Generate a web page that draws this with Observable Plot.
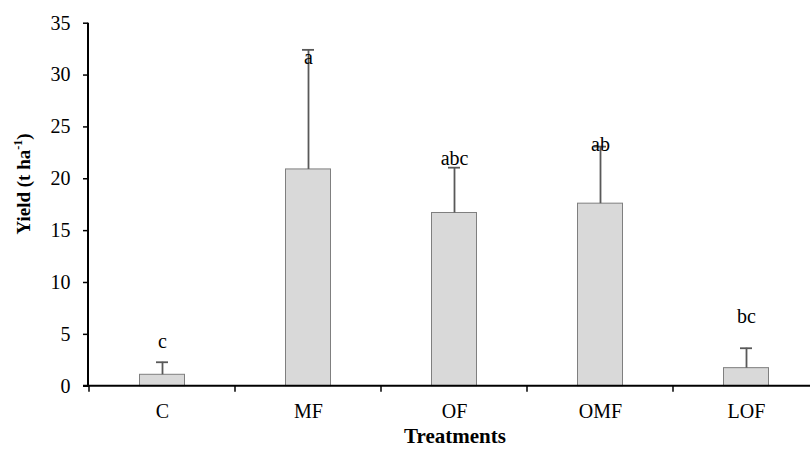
<!DOCTYPE html>
<html>
<head>
<meta charset="utf-8">
<script src="https://cdn.jsdelivr.net/npm/d3@7"></script>
<script src="https://cdn.jsdelivr.net/npm/@observablehq/plot@0.6"></script>
<style>
  html, body { margin: 0; padding: 0; background: #fff; }
  #chart svg { overflow: visible; display: block; font-family: "Liberation Serif", "Times New Roman", serif !important; }
  #chart svg text { font-family: "Liberation Serif", "Times New Roman", serif !important; }
</style>
</head>
<body>
<div id="chart"></div>
<script>
const categories = ["C", "MF", "OF", "OMF", "LOF"];
const means = [1.1, 20.9, 16.7, 17.6, 1.74];
const errors = [1.21, 11.53, 4.37, 5.5, 1.92];
const letters = ["c", "a", "abc", "ab", "bc"];
const letterY = [3.73, 31.1, 21.3, 22.7, 6.1];
const yTicks = [0, 5, 10, 15, 20, 25, 30, 35];

const data = categories.map((c, i) => ({
  cat: c, mean: means[i], top: means[i] + errors[i], letter: letters[i], ly: letterY[i]
}));

const font = "Liberation Serif";

const plot = Plot.plot({
  width: 810,
  height: 450,
  marginLeft: 88,
  marginRight: 0,
  marginTop: 22,
  marginBottom: 64,
  style: { fontFamily: font, fontSize: "20px", color: "#000", background: "#fff", overflow: "visible" },
  x: { domain: categories, range: [88, 819.5], padding: 0, label: null },
  y: { domain: [0, 35], range: [385.7, 22.7], label: null },
  marks: [
    Plot.barY(data, { x: "cat", y: "mean", fill: "#d9d9d9", stroke: "#7f7f7f", strokeWidth: 1, insetLeft: 50.5, insetRight: 50.5 }),
    Plot.ruleX(data, { x: "cat", y1: "mean", y2: "top", stroke: "#595959", strokeWidth: 1.8 }),
    Plot.tickY(data, { x: "cat", y: "top", stroke: "#595959", strokeWidth: 1.8, insetLeft: 67, insetRight: 67 }),
    Plot.text(data, { x: "cat", y: "ly", text: "letter", lineAnchor: "bottom", fontSize: 20, fontFamily: font, fill: "#000" }),
    Plot.axisY({ ticks: yTicks, tickSize: 5, tickPadding: 13, tickFormat: d => d, fontSize: 20, fontFamily: font, label: null, strokeWidth: 1.5 }),
    Plot.axisX({ tickSize: 0, tickPadding: 17, fontSize: 20, fontFamily: font, label: null })
  ]
});

document.getElementById("chart").appendChild(plot);

const xs = plot.scale("x");
const ys = plot.scale("y");
const svg = d3.select(plot);
const y0 = ys.apply(0), y35 = ys.apply(35);
const xLeft = xs.range[0], xRight = xs.range[1];

// boundary ticks on the x axis
const g = svg.append("g").attr("stroke", "#000");
categories.forEach(c => {
  const xb = xs.apply(c);
  g.append("line").attr("x1", xb).attr("x2", xb).attr("y1", y0).attr("y2", y0 + 6).attr("stroke-width", 1.5);
});
// axis lines
g.append("line").attr("x1", xLeft).attr("x2", xLeft).attr("y1", y35).attr("y2", y0 + 1).attr("stroke-width", 2);
g.append("line").attr("x1", xLeft - 5).attr("x2", xRight).attr("y1", y0).attr("y2", y0).attr("stroke-width", 2);

// axis titles
svg.append("text")
  .attr("x", (xLeft + 810) / 2 + 6).attr("y", 443)
  .attr("text-anchor", "middle")
  .attr("font-family", font).attr("font-size", 21).attr("font-weight", "bold")
  .text("Treatments");

const yl = svg.append("text")
  .attr("transform", `translate(30, 184) rotate(-90)`)
  .attr("text-anchor", "middle")
  .attr("font-family", font).attr("font-size", 19).attr("font-weight", "bold");
yl.append("tspan").text("Yield (t ha");
yl.append("tspan").attr("font-size", 12).attr("dy", -8).text("-1");
yl.append("tspan").attr("dy", 8).text(")");
</script>
</body>
</html>
